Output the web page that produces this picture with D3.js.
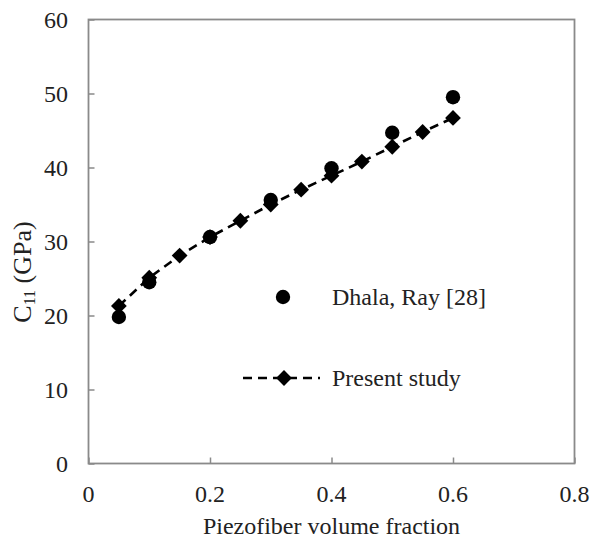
<!DOCTYPE html>
<html><head><meta charset="utf-8">
<script src="https://cdn.jsdelivr.net/npm/d3@7"></script>
<style>body{margin:0;background:#fff}svg{display:block}text{font-family:"Liberation Serif","Times New Roman",serif;fill:#222}</style>
</head><body><svg id="c" width="591" height="544"></svg>
<script>
const refX = [0.05, 0.1, 0.2, 0.3, 0.4, 0.5, 0.6];
const refY = [19.8, 24.5, 30.6, 35.6, 39.9, 44.7, 49.5];
const presX = [0.05, 0.1, 0.15, 0.2, 0.25, 0.3, 0.35, 0.4, 0.45, 0.5, 0.55, 0.6];
const presY = [21.3, 25.1, 28.1, 30.6, 32.8, 35.0, 37.0, 38.9, 40.8, 42.8, 44.8, 46.7];
const xTicks = [0, 0.2, 0.4, 0.6, 0.8];
const yTicks = [0, 10, 20, 30, 40, 50, 60];
const legendLabels = ["Dhala, Ray [28]", "Present study"];

const svg = d3.select("#c");
const L = 88.5, R = 574.5, T = 19.5, B = 463.5;
const x = d3.scaleLinear().domain([0, 0.8]).range([L, R]);
const y = d3.scaleLinear().domain([0, 60]).range([B, T]);
const frame = "#8a8a8a";

// frame
svg.append("rect").attr("x", L).attr("y", T).attr("width", R - L).attr("height", B - T)
  .attr("fill", "none").attr("stroke", frame).attr("stroke-width", 1.8);

// axes (inward ticks)
const xa = svg.append("g").attr("transform", `translate(0,${B})`)
  .call(d3.axisTop(x).tickValues(xTicks).tickSize(6).tickFormat(""));
const ya = svg.append("g").attr("transform", `translate(${L},0)`)
  .call(d3.axisRight(y).tickValues(yTicks).tickSize(6).tickFormat(""));
[xa, ya].forEach(g => { g.select(".domain").remove(); g.selectAll("line").attr("stroke", frame).attr("stroke-width", 1.5); });

// tick labels
svg.append("g").selectAll("text").data(xTicks).join("text")
  .attr("x", d => x(d)).attr("y", 502).attr("text-anchor", "middle")
  .attr("font-size", 24).text(d => d3.format("")(d));
svg.append("g").selectAll("text").data(yTicks).join("text")
  .attr("x", 68).attr("y", d => y(d) + 8).attr("text-anchor", "end")
  .attr("font-size", 24).text(d => d);

// axis titles
svg.append("text").attr("x", (L + R) / 2).attr("y", 534).attr("text-anchor", "middle")
  .attr("font-size", 24).text("Piezofiber volume fraction");
const yt = svg.append("text").attr("transform", "translate(31,272) rotate(-90)")
  .attr("text-anchor", "middle").attr("font-size", 26);
yt.append("tspan").text("C");
yt.append("tspan").attr("font-size", 16).attr("dy", 4).text("11");
yt.append("tspan").attr("dy", -4).text(" (GPa)");

// present study line
const line = d3.line().x((d, i) => x(presX[i])).y(d => y(d));
svg.append("path").datum(presY).attr("d", line).attr("fill", "none")
  .attr("stroke", "#000").attr("stroke-width", 2.6).attr("stroke-dasharray", "9,6");

// diamonds (rotated squares)
svg.append("g").selectAll("path").data(presY).join("path")
  .attr("transform", (d, i) => `translate(${x(presX[i])},${y(d)}) rotate(45)`)
  .attr("d", d3.symbol().type(d3.symbolSquare).size(125)).attr("fill", "#000");

// reference circles
svg.append("g").selectAll("circle").data(refY).join("circle")
  .attr("cx", (d, i) => x(refX[i])).attr("cy", d => y(d)).attr("r", 7.2).attr("fill", "#000");

// legend
const lg = svg.append("g");
lg.append("circle").attr("cx", 283).attr("cy", 297).attr("r", 7.2).attr("fill", "#000");
lg.append("text").attr("x", 332).attr("y", 305).attr("font-size", 24).text(legendLabels[0]);
lg.append("line").attr("x1", 243).attr("x2", 320).attr("y1", 378).attr("y2", 378)
  .attr("stroke", "#000").attr("stroke-width", 2.6).attr("stroke-dasharray", "9,6");
lg.append("path").attr("transform", "translate(284,378) rotate(45)")
  .attr("d", d3.symbol().type(d3.symbolSquare).size(125)).attr("fill", "#000");
lg.append("text").attr("x", 332).attr("y", 386).attr("font-size", 24).text(legendLabels[1]);
</script></body></html>
